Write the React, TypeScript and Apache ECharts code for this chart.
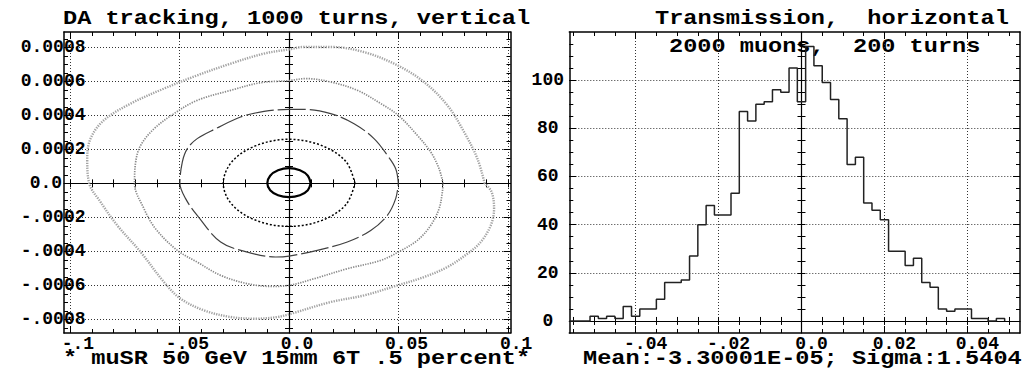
import React, { useEffect, useRef } from 'react';
import * as echarts from 'echarts';

// ---------------- Left panel: DA tracking curves (x, x') ----------------
const curveInner: number[][] = [
  [0.0099, 0], [0.0086, 0.000045], [0.005, 0.000077], [0, 0.00009], [-0.005, 0.000077], [-0.0086, 0.000045],
  [-0.0099, 0], [-0.0086, -0.00004], [-0.005, -0.00007], [0, -0.000081], [0.005, -0.00007], [0.0086, -0.00004], [0.0099, 0],
];
const curveDotted: number[][] = [
  [0.0301, 0], [0.026, 0.000128], [0.015, 0.000222], [0, 0.000259], [-0.015, 0.000222], [-0.026, 0.000128], [-0.030, 0],
  [-0.026, -0.000125], [-0.015, -0.000218], [0, -0.000253], [0.015, -0.000218], [0.026, -0.000125], [0.0301, 0],
];
const curveDashed: number[][] = [
  [0.0499, 0], [0.0487, 0.000086], [0.0449, 0.000165], [0.0388, 0.000263], [0.0297, 0.000351], [0.019, 0.00041],
  [0.0068, 0.000435], [0, 0.000435], [-0.0114, 0.000423], [-0.0221, 0.00039], [-0.0335, 0.000321], [-0.0419, 0.000263],
  [-0.0464, 0.000204], [-0.0487, 0.000125], [-0.0498, 0], [-0.0472, -0.00009], [-0.0419, -0.000188], [-0.0312, -0.000345],
  [-0.019, -0.000404], [-0.0061, -0.000433], [0, -0.000428], [0.0129, -0.000394], [0.0266, -0.000345], [0.0373, -0.000277],
  [0.0449, -0.000188], [0.0487, -0.00009], [0.0499, 0],
];
const curveMid: number[][] = [
  [0.0703, 0], [0.0685, 0.000086], [0.0647, 0.000184], [0.0586, 0.000282], [0.0499, 0.0004], [0.0419, 0.000469],
  [0.0312, 0.000547], [0.019, 0.000596], [0.0076, 0.000616], [0, 0.000604], [-0.0129, 0.000592], [-0.0266, 0.000547],
  [-0.0419, 0.000488], [-0.0525, 0.00041], [-0.0616, 0.000321], [-0.0677, 0.000223], [-0.07, 0.000125], [-0.0705, 0],
  [-0.0662, -0.000149], [-0.0609, -0.000267], [-0.051, -0.000394], [-0.0419, -0.000463], [-0.0312, -0.000541],
  [-0.019, -0.00059], [-0.0084, -0.000606], [0, -0.0006], [0.0114, -0.000561], [0.0266, -0.000502], [0.0419, -0.000453],
  [0.0499, -0.000404], [0.0586, -0.000335], [0.0647, -0.000247], [0.0685, -0.000149], [0.07, -0.000051], [0.0703, 0],
];
const curveOuter: number[][] = [
  [0.0893, 0], [0.086, 0.000145], [0.0799, 0.000302], [0.0723, 0.000459], [0.0616, 0.000596], [0.0495, 0.000694],
  [0.0342, 0.000772], [0.019, 0.000802], [0.0068, 0.000802], [0, 0.000788], [-0.0114, 0.000763], [-0.0266, 0.000704],
  [-0.0419, 0.000635], [-0.0571, 0.000557], [-0.0723, 0.000469], [-0.0845, 0.000371], [-0.0906, 0.000263],
  [-0.0921, 0.000145], [-0.0912, 0], [-0.086, -0.00011], [-0.0784, -0.000247], [-0.0677, -0.000404], [-0.0571, -0.00058],
  [-0.0495, -0.000678], [-0.0388, -0.000747], [-0.0266, -0.000786], [-0.0152, -0.000796], [-0.0053, -0.000786],
  [0, -0.00077], [0.019, -0.000698], [0.0342, -0.000659], [0.0495, -0.0006], [0.0616, -0.000551], [0.0723, -0.000492],
  [0.0814, -0.000414], [0.0875, -0.000345], [0.0921, -0.000247], [0.0936, -0.000149], [0.0925, -0.000051], [0.0893, 0],
];

// ---------------- Right panel: histogram ----------------
const binStart = -0.051;
const binWidth = 0.002;
const counts = [
  2, 1, 2, 1, 6, 2, 5, 5, 9, 16, 16, 17, 27, 40, 48, 44, 44, 53, 87, 83, 90, 91, 96, 95, 105,
  91, 114, 106, 99, 92, 84, 65, 68, 49, 46, 42, 29, 29, 23, 26, 16, 14, 5, 4, 5, 5, 1, 1, 0, 1,
];

// ---------------- Ticks and labels ----------------
const leftXTicks = [-0.1, -0.05, 0, 0.05, 0.1];
const leftXLabels = ['-.1', '-.05', '0.0', '0.05', '0.1'];
const leftYTicks = [-0.0008, -0.0006, -0.0004, -0.0002, 0, 0.0002, 0.0004, 0.0006, 0.0008];
const leftYLabels = ['-.0008', '-.0006', '-.0004', '-.0002', '0.0', '0.0002', '0.0004', '0.0006', '0.0008'];
const rightXTicks = [-0.04, -0.02, 0, 0.02, 0.04];
const rightXLabels = ['-.04', '-.02', '0.0', '0.02', '0.04'];
const rightYTicks = [0, 20, 40, 60, 80, 100];
const rightYLabels = ['0', '20', '40', '60', '80', '100'];

const titleLeft = 'DA tracking, 1000 turns, vertical';
const titleRight = 'Transmission,\u00a0 horizontal';
const subtitleRight = '2000 muons,\u00a0 200 turns';
const footLeft = '* muSR 50 GeV 15mm 6T .5 percent*';
const footRight = 'Mean:-3.30001E-05; Sigma:1.5404';

function range(a: number, b: number, step: number): number[] {
  const out: number[] = [];
  const n = Math.round((b - a) / step);
  for (let i = 0; i <= n; i++) out.push(+(a + i * step).toFixed(10));
  return out;
}
const leftXMinor = range(-0.1, 0.1, 0.01);
const leftYMinor = range(-0.00085, 0.00085, 0.00005);
const rightXMinor = range(-0.055, 0.05, 0.005);
const rightYMinor = range(0, 115, 5);

function labelOf(ticks: number[], labels: string[]) {
  return (v: number) => {
    let best = 0;
    for (let i = 1; i < ticks.length; i++) if (Math.abs(ticks[i] - v) < Math.abs(ticks[best] - v)) best = i;
    return labels[best];
  };
}

const FONT = 'Liberation Mono';
const labelFont = { fontFamily: FONT, fontWeight: 'bold' as const, fontSize: 18, color: '#000' };
const gridLine = { show: true, lineStyle: { color: '#333', width: 1, type: [1, 2] } };

function mkAxis(o: any) {
  return {
    type: 'value',
    gridIndex: o.grid,
    min: o.min,
    max: o.max,
    position: o.position,
    offset: 0,
    axisLine: { show: !!o.line, onZero: !!o.onZero, lineStyle: { color: '#000', width: o.lineWidth ?? 1.5 } },
    axisTick: { show: true, inside: o.inside, length: o.len, customValues: o.ticks, lineStyle: { color: '#000', width: 1 } },
    axisLabel: o.labels ? o.labels : { show: false },
    splitLine: o.split ? gridLine : { show: false },
    minorTick: { show: false },
    minorSplitLine: { show: false },
  };
}

function panelAxes(grid: number, xr: number[], yr: number[], xMaj: number[], xMin: number[], yMaj: number[], yMin: number[], xLab: any, yLab: any) {
  const X = { grid, min: xr[0], max: xr[1] };
  const Y = { grid, min: yr[0], max: yr[1] };
  const xAxes = [
    mkAxis({ ...X, position: 'bottom', line: true, ticks: xMaj, len: 7, inside: true, labels: xLab, split: true }),
    mkAxis({ ...X, position: 'bottom', ticks: xMin, len: 4, inside: true }),
    mkAxis({ ...X, position: 'top', line: true, ticks: xMaj, len: 7, inside: true }),
    mkAxis({ ...X, position: 'top', ticks: xMin, len: 4, inside: true }),
    mkAxis({ ...X, position: 'bottom', line: true, lineWidth: 1.2, onZero: true, ticks: xMin, len: 4, inside: true }),
    mkAxis({ ...X, position: 'bottom', onZero: true, ticks: xMin, len: 4, inside: false }),
  ];
  const yAxes = [
    mkAxis({ ...Y, position: 'left', line: true, ticks: yMaj, len: 7, inside: true, labels: yLab, split: true }),
    mkAxis({ ...Y, position: 'left', ticks: yMin, len: 4, inside: true }),
    mkAxis({ ...Y, position: 'right', line: true, ticks: yMaj, len: 7, inside: true }),
    mkAxis({ ...Y, position: 'right', ticks: yMin, len: 4, inside: true }),
    mkAxis({ ...Y, position: 'left', line: true, lineWidth: 1.2, onZero: true, ticks: yMin, len: 4, inside: true }),
    mkAxis({ ...Y, position: 'left', onZero: true, ticks: yMin, len: 4, inside: false }),
  ];
  return { xAxes, yAxes };
}

function textEl(text: string, x: number, y: number) {
  return {
    type: 'text',
    x,
    y,
    scaleX: 1.18,
    style: { text, fontFamily: FONT, fontWeight: 'bold', fontSize: 20, fill: '#000', align: 'left', verticalAlign: 'middle' },
  };
}

export default function App() {
  const ref = useRef<HTMLDivElement>(null);
  useEffect(() => {
    if (!ref.current) return;
    const chart = echarts.init(ref.current, undefined, { renderer: 'svg' });

    const left = panelAxes(
      0, [-0.1027, 0.1011], [-0.00088, 0.00089], leftXTicks, leftXMinor, leftYTicks, leftYMinor,
      { show: true, customValues: leftXTicks, formatter: labelOf(leftXTicks, leftXLabels), ...labelFont, margin: 2, padding: [0, 0, 0, 16] },
      {
        show: true, customValues: leftYTicks, align: 'left', margin: 43.3,
        formatter: (v: number) => (Math.abs(v) < 1e-12 ? '{z|0.0}' : '{n|' + labelOf(leftYTicks, leftYLabels)(v) + '}'),
        ...labelFont,
        rich: { n: { ...labelFont }, z: { ...labelFont, padding: [0, 0, 0, 9] } },
      }
    );
    const right = panelAxes(
      1, [-0.056, 0.0527], [-5, 120], rightXTicks, rightXMinor, rightYTicks, rightYMinor,
      { show: true, customValues: rightXTicks, formatter: labelOf(rightXTicks, rightXLabels), ...labelFont, margin: 2, padding: [0, 0, 0, 20] },
      { show: true, customValues: rightYTicks, formatter: labelOf(rightYTicks, rightYLabels), align: 'center', margin: 21.5, ...labelFont }
    );

    const histData: number[][] = [[-0.056, 0]];
    counts.forEach((c, i) => histData.push([binStart + i * binWidth, c]));
    histData.push([binStart + counts.length * binWidth, 0]);

    const curve = (data: number[][], color: string, width: number, type: any) => ({
      type: 'line', xAxisIndex: 0, yAxisIndex: 0, data, smooth: 0.35, symbol: 'none', z: 5,
      lineStyle: { color, width, type },
    });

    chart.setOption({
      animation: false,
      backgroundColor: '#fff',
      grid: [
        { left: 64, top: 32, width: 446.5, height: 301 },
        { left: 569.3, top: 32, width: 450.7, height: 301 },
      ],
      xAxis: [...left.xAxes, ...right.xAxes],
      yAxis: [...left.yAxes, ...right.yAxes],
      series: [
        curve(curveOuter, '#a3a3a3', 2.4, [1.3, 1.2]),
        curve(curveMid, '#8a8a8a', 1.7, [1.3, 1.2]),
        curve(curveDashed, '#404040', 1.2, [28, 4]),
        curve(curveDotted, '#000', 1.5, [2, 2]),
        curve(curveInner, '#000', 2.2, 'solid'),
        {
          type: 'line', xAxisIndex: 6, yAxisIndex: 6, data: histData, step: 'end', symbol: 'none', z: 5,
          lineStyle: { color: '#222', width: 1.5 },
        },
      ],
      graphic: {
        elements: [
          textEl(titleLeft, 63, 19),
          textEl(titleRight, 655, 19),
          textEl(subtitleRight, 669, 47),
          textEl(footLeft, 63, 359),
          textEl(footRight, 583, 359),
        ],
      },
    });
    return () => chart.dispose();
  }, []);
  return <div ref={ref} style={{ position: 'absolute', left: 0, top: 0, width: 1022, height: 377 }} />;
}
